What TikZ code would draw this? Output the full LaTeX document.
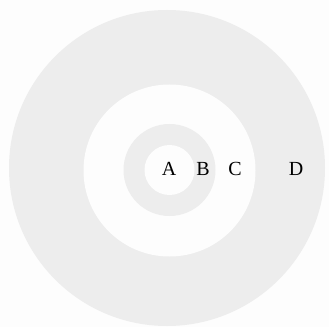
\documentclass[tikz,border=0pt]{standalone}
\usepackage{fontspec}
\setmainfont{Liberation Serif}
\definecolor{ringgray}{HTML}{EDEDED}
\definecolor{bgwhite}{HTML}{FDFDFD}
\begin{document}
\begin{tikzpicture}[x=1pt,y=1pt,
  lab/.style={font=\fontsize{20}{20}\selectfont, inner sep=0pt, anchor=base}]
\fill[bgwhite] (0,0) rectangle (329,327);
\useasboundingbox (0,0) rectangle (329,327);
\fill[ringgray] (167,159) circle (158);
\fill[bgwhite] (169.5,156.5) circle (86);
\fill[ringgray] (169.5,157) circle (46);
\fill[bgwhite] (169.5,157) circle (25);
\node[lab] (A) at (169,151) {A};
\node[lab] (B) at (203,151) {B};
\node[lab] (C) at (235,151) {C};
\node[lab] (D) at (296,151) {D};
\end{tikzpicture}
\end{document}
